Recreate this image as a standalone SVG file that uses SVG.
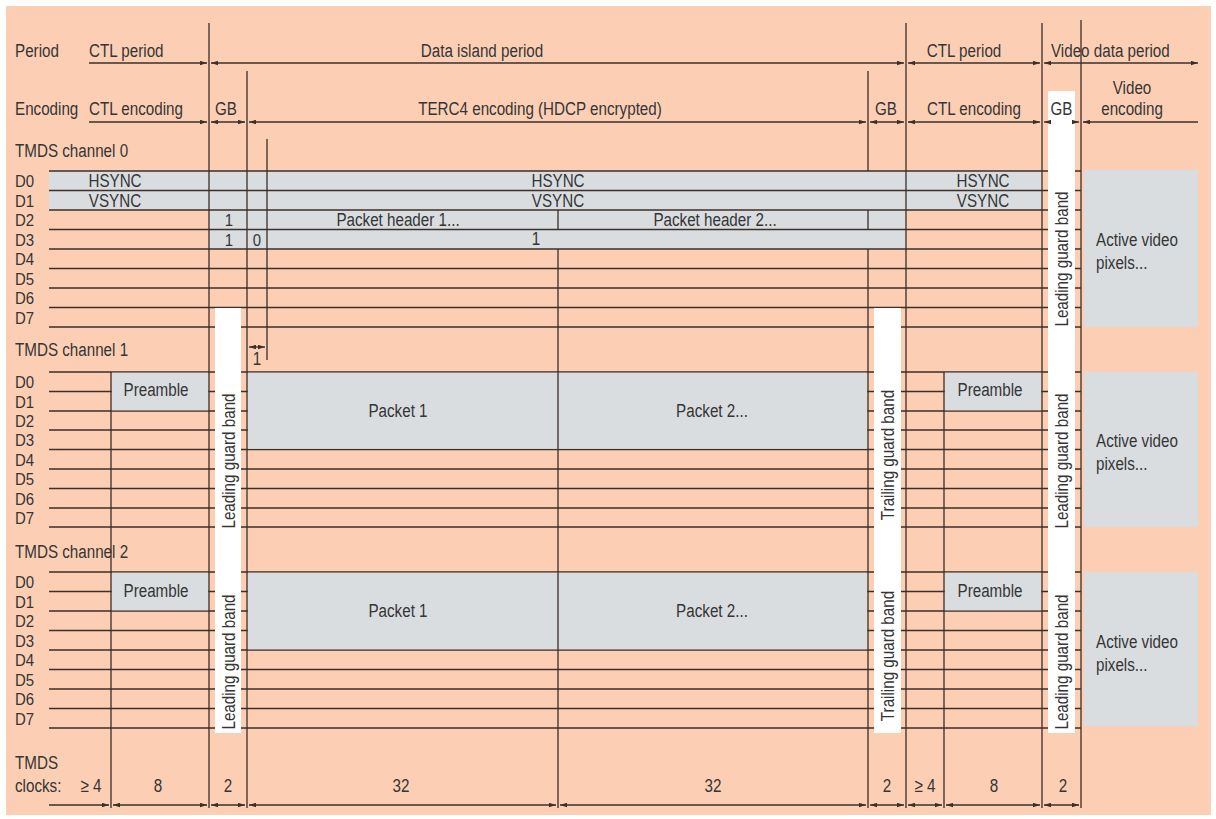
<svg xmlns="http://www.w3.org/2000/svg" width="1216" height="819" viewBox="0 0 1216 819">
<defs>
<style>
.bg{fill:#FCCFB4}
.gr{fill:#D9DDE0}
.wh{fill:#FFFFFF}
.ln{stroke:#3c2f28;stroke-width:1.3;fill:none}
.ar{stroke:#3c2f28;stroke-width:1.3;fill:none}
.t{font-family:"Liberation Sans",Arial,sans-serif;font-size:19px;fill:#353535}
.d{font-family:"Liberation Sans",Arial,sans-serif;font-size:17px;fill:#353535}
.m{text-anchor:middle}
</style>
<marker id="ah" viewBox="0 0 7 5" refX="7" refY="2.5" markerWidth="7" markerHeight="5" markerUnits="userSpaceOnUse" orient="auto-start-reverse"><path d="M0,0.3 L7,2.5 L0,4.7z" fill="#3c2f28"/></marker>
</defs>
<rect x="0" y="0" width="1216" height="819" fill="#FFFFFF"/>
<rect class="bg" x="6" y="6" width="1205" height="809"/>

<g id="channel0-fills">
<rect class="gr" x="49" y="171" width="993" height="39"/>
<rect class="gr" x="209" y="210" width="697" height="39.5"/>
<rect class="gr" x="1084" y="170" width="114" height="157"/>
</g>

<g id="rows" class="ln">
<path d="M49,171H1081M49,190.5H1081M49,210H1081M49,229.5H1081M49,249H1081M49,268.5H1081M49,288H1081M49,307.5H1081M49,327H1081"/>
<path d="M49,372H1081M49,391.5H1081M49,411H1081M49,430H1081M49,449.5H1081M49,469H1081M49,488.5H1081M49,508H1081M49,527H1081"/>
<path d="M49,572H1081M49,591.5H1081M49,611H1081M49,630.5H1081M49,650H1081M49,669.5H1081M49,689H1081M49,708.5H1081M49,728H1081"/>
</g>

<g id="channel1-fills">
<rect class="gr" x="111.7" y="372.7" width="96.6" height="37.6"/>
<rect class="gr" x="247.7" y="372.7" width="619.6" height="76.1"/>
<rect class="gr" x="944.7" y="372.7" width="96.6" height="37.6"/>
<rect class="gr" x="1084" y="372" width="114" height="155"/>
</g>
<g id="channel2-fills">
<rect class="gr" x="111.7" y="572.7" width="96.6" height="37.6"/>
<rect class="gr" x="247.7" y="572.7" width="619.6" height="76.6"/>
<rect class="gr" x="944.7" y="572.7" width="96.6" height="37.6"/>
<rect class="gr" x="1084" y="572" width="114" height="154"/>
</g>

<g id="guard-bands">
<rect class="wh" x="215" y="308" width="26" height="425"/>
<rect class="wh" x="874" y="308" width="27" height="425"/>
<rect class="wh" x="1048" y="91" width="27" height="642"/>
</g>

<g id="verticals" class="ln">
<path d="M209,23V808M247,71V808M267,139V360M111,372V808M558,210V229.5M558,249V808M868,71V171M868,210V229.5M868,249V808M906,23V808M944,372V808M1042,23V808M1081,20V808"/>
</g>

<g id="header">
<text class="t" transform="translate(15,57) scale(.8,1)">Period</text>
<text class="t" transform="translate(89,57) scale(.8,1)">CTL period</text>
<text class="t m" transform="translate(482,57) scale(.8,1)">Data island period</text>
<text class="t m" transform="translate(964,57) scale(.8,1)">CTL period</text>
<text class="t" transform="translate(1051,57) scale(.8,1)">Video data period</text>
<text class="t" transform="translate(15,115) scale(.8,1)">Encoding</text>
<text class="t" transform="translate(89,115) scale(.8,1)">CTL encoding</text>
<text class="t m" transform="translate(226,115) scale(.8,1)">GB</text>
<text class="t m" transform="translate(540,115) scale(.8,1)">TERC4 encoding (HDCP encrypted)</text>
<text class="t m" transform="translate(886,115) scale(.8,1)">GB</text>
<text class="t m" transform="translate(974,115) scale(.8,1)">CTL encoding</text>
<text class="t m" transform="translate(1061.5,115) scale(.8,1)">GB</text>
<text class="t m" transform="translate(1132,94) scale(.8,1)">Video</text>
<text class="t m" transform="translate(1132,115) scale(.8,1)">encoding</text>
</g>

<g id="channel0">
<text class="t" transform="translate(15,157) scale(.8,1)">TMDS channel 0</text>
<text class="d" transform="translate(15,187) scale(.88,1)">D0</text>
<text class="d" transform="translate(15,206.5) scale(.88,1)">D1</text>
<text class="d" transform="translate(15,226) scale(.88,1)">D2</text>
<text class="d" transform="translate(15,245.5) scale(.88,1)">D3</text>
<text class="d" transform="translate(15,265) scale(.88,1)">D4</text>
<text class="d" transform="translate(15,284.5) scale(.88,1)">D5</text>
<text class="d" transform="translate(15,304) scale(.88,1)">D6</text>
<text class="d" transform="translate(15,323.5) scale(.88,1)">D7</text>
<text class="t m" transform="translate(115,187) scale(.8,1)">HSYNC</text>
<text class="t m" transform="translate(558,187) scale(.8,1)">HSYNC</text>
<text class="t m" transform="translate(983,187) scale(.8,1)">HSYNC</text>
<text class="t m" transform="translate(115,207) scale(.8,1)">VSYNC</text>
<text class="t m" transform="translate(558,207) scale(.8,1)">VSYNC</text>
<text class="t m" transform="translate(983,207) scale(.8,1)">VSYNC</text>
<text class="d m" transform="translate(229,226) scale(.88,1)">1</text>
<text class="t m" transform="translate(398,226) scale(.8,1)">Packet header 1...</text>
<text class="t m" transform="translate(715,226) scale(.8,1)">Packet header 2...</text>
<text class="d m" transform="translate(229,245.5) scale(.88,1)">1</text>
<text class="d m" transform="translate(257,245.5) scale(.88,1)">0</text>
<text class="t m" transform="translate(536,245) scale(.8,1)">1</text>
<text class="t" transform="translate(1096,246) scale(.8,1)">Active video</text>
<text class="t" transform="translate(1096,269) scale(.8,1)">pixels...</text>
<text class="t m" transform="translate(1068,259) rotate(-90) scale(.8,1)">Leading guard band</text>
<text class="t m" transform="translate(257,365) scale(.8,1)">1</text>
</g>

<g id="channel1">
<text class="t" transform="translate(15,356) scale(.8,1)">TMDS channel 1</text>
<text class="d" transform="translate(15,388) scale(.88,1)">D0</text>
<text class="d" transform="translate(15,407.5) scale(.88,1)">D1</text>
<text class="d" transform="translate(15,427) scale(.88,1)">D2</text>
<text class="d" transform="translate(15,446) scale(.88,1)">D3</text>
<text class="d" transform="translate(15,465.5) scale(.88,1)">D4</text>
<text class="d" transform="translate(15,485) scale(.88,1)">D5</text>
<text class="d" transform="translate(15,504.5) scale(.88,1)">D6</text>
<text class="d" transform="translate(15,524) scale(.88,1)">D7</text>
<text class="t m" transform="translate(156,396) scale(.8,1)">Preamble</text>
<text class="t m" transform="translate(398,417) scale(.8,1)">Packet 1</text>
<text class="t m" transform="translate(712,417) scale(.8,1)">Packet 2...</text>
<text class="t m" transform="translate(990,396) scale(.8,1)">Preamble</text>
<text class="t" transform="translate(1096,447) scale(.8,1)">Active video</text>
<text class="t" transform="translate(1096,470) scale(.8,1)">pixels...</text>
<text class="t m" transform="translate(234.5,461) rotate(-90) scale(.8,1)">Leading guard band</text>
<text class="t m" transform="translate(894,455) rotate(-90) scale(.8,1)">Trailing guard band</text>
<text class="t m" transform="translate(1068,461) rotate(-90) scale(.8,1)">Leading guard band</text>
</g>

<g id="channel2">
<text class="t" transform="translate(15,558) scale(.8,1)">TMDS channel 2</text>
<text class="d" transform="translate(15,588) scale(.88,1)">D0</text>
<text class="d" transform="translate(15,607.5) scale(.88,1)">D1</text>
<text class="d" transform="translate(15,627) scale(.88,1)">D2</text>
<text class="d" transform="translate(15,646.5) scale(.88,1)">D3</text>
<text class="d" transform="translate(15,666) scale(.88,1)">D4</text>
<text class="d" transform="translate(15,685.5) scale(.88,1)">D5</text>
<text class="d" transform="translate(15,705) scale(.88,1)">D6</text>
<text class="d" transform="translate(15,724.5) scale(.88,1)">D7</text>
<text class="t m" transform="translate(156,597) scale(.8,1)">Preamble</text>
<text class="t m" transform="translate(398,617) scale(.8,1)">Packet 1</text>
<text class="t m" transform="translate(712,617) scale(.8,1)">Packet 2...</text>
<text class="t m" transform="translate(990,597) scale(.8,1)">Preamble</text>
<text class="t" transform="translate(1096,648) scale(.8,1)">Active video</text>
<text class="t" transform="translate(1096,671) scale(.8,1)">pixels...</text>
<text class="t m" transform="translate(234.5,662) rotate(-90) scale(.8,1)">Leading guard band</text>
<text class="t m" transform="translate(894,656) rotate(-90) scale(.8,1)">Trailing guard band</text>
<text class="t m" transform="translate(1068,662) rotate(-90) scale(.8,1)">Leading guard band</text>
</g>

<g id="clocks">
<text class="t" transform="translate(15,769) scale(.8,1)">TMDS</text>
<text class="t" transform="translate(15,792) scale(.8,1)">clocks:</text>
<text class="t m" transform="translate(91,792) scale(.8,1)">≥ 4</text>
<text class="t m" transform="translate(158,792) scale(.8,1)">8</text>
<text class="t m" transform="translate(228,792) scale(.8,1)">2</text>
<text class="t m" transform="translate(401,792) scale(.8,1)">32</text>
<text class="t m" transform="translate(713,792) scale(.8,1)">32</text>
<text class="t m" transform="translate(887,792) scale(.8,1)">2</text>
<text class="t m" transform="translate(925,792) scale(.8,1)">≥ 4</text>
<text class="t m" transform="translate(994,792) scale(.8,1)">8</text>
<text class="t m" transform="translate(1063,792) scale(.8,1)">2</text>
</g>

<g id="connectors" class="ar">
<line x1="89" y1="63" x2="207" y2="63" marker-end="url(#ah)"/>
<line x1="211" y1="63" x2="904" y2="63" marker-start="url(#ah)" marker-end="url(#ah)"/>
<line x1="908" y1="63" x2="1040" y2="63" marker-start="url(#ah)" marker-end="url(#ah)"/>
<line x1="1044" y1="63" x2="1198" y2="63" marker-start="url(#ah)" marker-end="url(#ah)"/>
<line x1="89" y1="122" x2="207" y2="122" marker-end="url(#ah)"/>
<line x1="211" y1="122" x2="245" y2="122" marker-start="url(#ah)" marker-end="url(#ah)"/>
<line x1="249" y1="122" x2="866" y2="122" marker-start="url(#ah)" marker-end="url(#ah)"/>
<line x1="870" y1="122" x2="904" y2="122" marker-start="url(#ah)" marker-end="url(#ah)"/>
<line x1="908" y1="122" x2="1040" y2="122" marker-start="url(#ah)" marker-end="url(#ah)"/>
<line x1="1044" y1="122" x2="1048" y2="122" marker-start="url(#ah)"/>
<line x1="1075" y1="122" x2="1079" y2="122" marker-end="url(#ah)"/>
<line x1="1083" y1="122" x2="1198" y2="122" marker-start="url(#ah)"/>
<line x1="249" y1="347" x2="265" y2="347" marker-start="url(#ah)" marker-end="url(#ah)"/>
<line x1="49" y1="805" x2="109" y2="805" marker-end="url(#ah)"/>
<line x1="113" y1="805" x2="207" y2="805" marker-start="url(#ah)" marker-end="url(#ah)"/>
<line x1="211" y1="805" x2="245" y2="805" marker-start="url(#ah)" marker-end="url(#ah)"/>
<line x1="249" y1="805" x2="556" y2="805" marker-start="url(#ah)" marker-end="url(#ah)"/>
<line x1="560" y1="805" x2="866" y2="805" marker-start="url(#ah)" marker-end="url(#ah)"/>
<line x1="870" y1="805" x2="904" y2="805" marker-start="url(#ah)" marker-end="url(#ah)"/>
<line x1="908" y1="805" x2="942" y2="805" marker-start="url(#ah)" marker-end="url(#ah)"/>
<line x1="946" y1="805" x2="1040" y2="805" marker-start="url(#ah)" marker-end="url(#ah)"/>
<line x1="1044" y1="805" x2="1079" y2="805" marker-start="url(#ah)" marker-end="url(#ah)"/>
</g>
</svg>
